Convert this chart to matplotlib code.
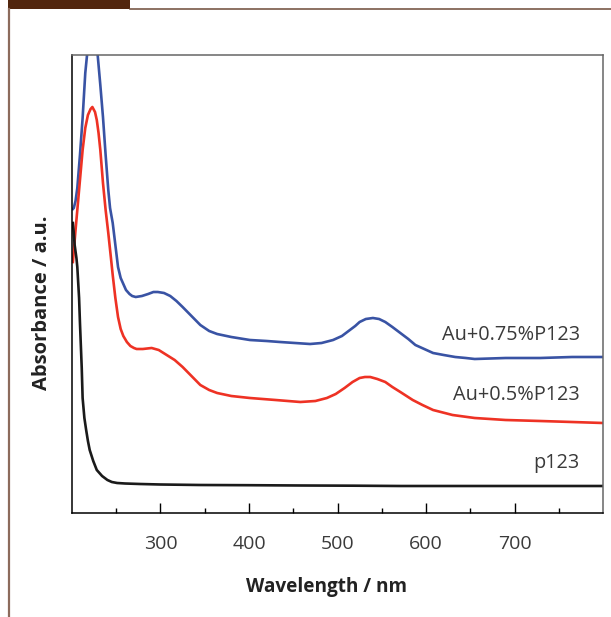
import numpy as np
import matplotlib.pyplot as plt
from matplotlib.patches import Rectangle
from matplotlib.lines import Line2D

plt.rcParams['font.family'] = ['Open Sans', 'DejaVu Sans']

# spectra (wavelength nm, absorbance a.u.)
wl_blue = [201, 202, 204, 206, 209, 212, 215, 217, 220, 223, 226, 229, 232, 235, 238, 241,
           243, 246, 249, 252, 255, 258, 261, 265, 268, 272, 279, 286, 292, 297, 304, 311,
           318, 325, 335, 345, 355, 364, 380, 401, 420, 435, 452, 469, 482, 495, 505, 514,
           520, 525, 532, 540, 547, 554, 562, 571, 580, 588, 598, 608, 620, 633, 645, 655,
           690, 729, 765, 800]
ab_blue = [304, 305, 312, 325, 358, 395, 440, 458, 480, 488, 482, 458, 428, 396, 358, 323,
           305, 290, 268, 246, 235, 229, 223, 219, 217, 216, 217, 219, 221, 221, 220, 217,
           212, 206, 197, 188, 182, 179, 176, 173, 172, 171, 170, 169, 170, 173, 177, 183,
           187, 191, 194, 195, 194, 191, 186, 180, 174, 168, 164, 160, 158, 156, 155, 154,
           155, 155, 156, 156]

wl_red = [201, 204, 207, 210, 212, 215, 218, 221, 223, 226, 228, 230, 232, 235, 238, 241,
          244, 246, 249, 252, 255, 258, 262, 266, 270, 273, 280, 290, 298, 307, 316, 325,
          335, 345, 355, 364, 380, 401, 430, 458, 475, 488, 498, 508, 517, 525, 531, 537,
          545, 554, 562, 571, 585, 596, 608, 630, 655, 690, 729, 765, 800]
ab_red = [251, 283, 313, 343, 363, 385, 398, 404, 406, 401, 393, 380, 363, 330, 303, 280,
          255, 238, 215, 196, 184, 177, 171, 167, 165, 164, 164, 165, 163, 158, 153, 146,
          137, 128, 123, 120, 117, 115, 113, 111, 112, 115, 119, 125, 131, 135, 136, 136,
          134, 131, 126, 121, 113, 108, 103, 98, 95, 93, 92, 91, 90]

wl_p123 = [201, 202, 203, 205, 206, 208, 209, 211, 212, 214, 216, 218, 220, 224, 228, 234,
           240, 245, 251, 260, 277, 300, 345, 400, 460, 520, 571, 650, 720, 800]
ab_p123 = [290, 280, 268, 255, 246, 215, 190, 145, 115, 95, 83, 72, 63, 52, 43, 37,
           33, 31, 30, 29.5, 29, 28.5, 28, 27.8, 27.5, 27.3, 27, 27, 27, 27]

labels = ['Au+0.75%P123', 'Au+0.5%P123', 'p123']
label_y = [178, 118, 50]

fig = plt.figure(figsize=(6.11, 6.17), dpi=100)
ax = fig.add_axes([72/611, 1-513/617, 531/611, 458/617])

ax.plot(wl_blue, ab_blue, color='#3953a4', lw=1.9, solid_joinstyle='round')
ax.plot(wl_red, ab_red, color='#ee3224', lw=1.9, solid_joinstyle='round')
ax.plot(wl_p123, ab_p123, color='#1a1a1a', lw=1.9, solid_joinstyle='round')

for lab, yy in zip(labels, label_y):
    ax.text(774, yy, lab, ha='right', va='center', fontsize=14.3, color='#3a3a3a')

ax.set_xlim(200, 800)
ax.set_ylim(0, 458)
ax.set_xticks([300, 400, 500, 600, 700])
ax.set_xticks([250, 350, 450, 550, 650, 750], minor=True)
ax.set_yticks([])
ax.tick_params(axis='x', which='major', direction='in', length=7, width=1, pad=16,
               labelsize=14, labelcolor='#3a3a3a')
ax.tick_params(axis='x', which='minor', direction='in', length=3.8, width=1)
for side in ['top', 'right']:
    ax.spines[side].set_color('#666666')
for side in ['top', 'right', 'left', 'bottom']:
    ax.spines[side].set_linewidth(1.1)

fig.text(327/611, 1-587/617, 'Wavelength / nm', ha='center', va='center',
         fontsize=13.7, fontweight='bold', color='#222222')
fig.text(42/611, 1-303/617, 'Absorbance / a.u.', ha='center', va='center',
         rotation=90, fontsize=14.5, fontweight='bold', color='#222222')

# page decoration
fig.add_artist(Rectangle((8/611, 1-9/617), 122/611, 9/617, transform=fig.transFigure,
                         color='#52260e', lw=0))
fig.add_artist(Line2D([130/611, 1], [1-9/617, 1-9/617], transform=fig.transFigure,
                      color='#6e4a38', lw=1.1))
fig.add_artist(Line2D([9/611, 9/611], [0, 1-9/617], transform=fig.transFigure,
                      color='#8c6b5c', lw=1.6))

fig.savefig('out.png', dpi=100)
